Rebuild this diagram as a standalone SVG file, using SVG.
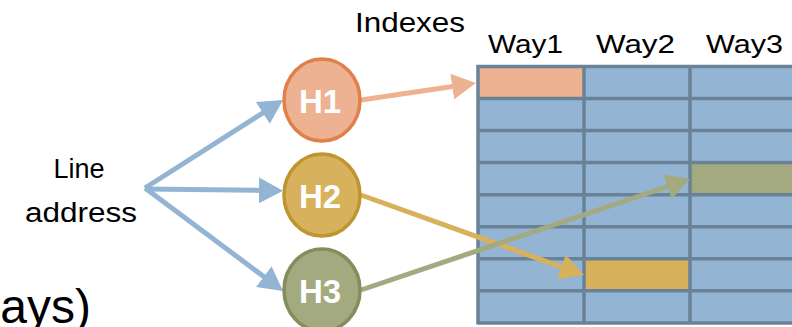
<svg xmlns="http://www.w3.org/2000/svg" width="792" height="327" viewBox="0 0 792 327">
<style>
text{font-family:"Liberation Sans",Arial,sans-serif;fill:#000}
.lbl{font-size:27px}
.way{font-size:26px}
.hl{font-size:33px;font-weight:bold;fill:#fff;text-anchor:middle}
.gl{stroke:#6a8298;stroke-width:3.5;fill:none}
.conn{fill:none;stroke-width:5}
</style>
<defs>
<marker id="aBlue" markerUnits="userSpaceOnUse" markerWidth="26" markerHeight="26" refX="2" refY="13" orient="auto"><path d="M0,0 L24,13 L0,26 z" fill="#93b4d2"/></marker>
<marker id="aPeach" markerUnits="userSpaceOnUse" markerWidth="26" markerHeight="26" refX="2" refY="13" orient="auto"><path d="M0,0 L24,13 L0,26 z" fill="#ecb291"/></marker>
<marker id="aGold" markerUnits="userSpaceOnUse" markerWidth="26" markerHeight="26" refX="2" refY="13" orient="auto"><path d="M0,0 L24,13 L0,26 z" fill="#d8b15c"/></marker>
<marker id="aOlive" markerUnits="userSpaceOnUse" markerWidth="26" markerHeight="26" refX="2" refY="13" orient="auto"><path d="M0,0 L24,13 L0,26 z" fill="#a3aa7f"/></marker>
</defs>

<g id="big-text"><text x="91" y="323" font-size="48" text-anchor="end">ays)</text></g>

<g id="line-address">
<text class="lbl" x="79" y="178" text-anchor="middle">Line</text>
<text class="lbl" x="81" y="222" text-anchor="middle" textLength="112" lengthAdjust="spacingAndGlyphs">address</text>
</g>

<g id="indexes-label"><text class="lbl" x="355" y="32" textLength="110" lengthAdjust="spacingAndGlyphs">Indexes</text></g>

<g id="way-labels">
<text class="way" x="488" y="53" textLength="75" lengthAdjust="spacingAndGlyphs">Way1</text>
<text class="way" x="596" y="53" textLength="79" lengthAdjust="spacingAndGlyphs">Way2</text>
<text class="way" x="706" y="53" textLength="77" lengthAdjust="spacingAndGlyphs">Way3</text>
</g>

<g id="table">
<rect x="478" y="66.5" width="320" height="256.4" fill="#93b4d2"/>
<rect x="478" y="66.5" width="106" height="32" fill="#ecb291"/>
<rect x="584" y="258.8" width="106" height="32" fill="#d8b15c"/>
<rect x="690" y="162.6" width="110" height="32" fill="#a3aa7f"/>
<path class="gl" d="M478,66.5 H792 M478,98.5 H792 M478,130.6 H792 M478,162.6 H792 M478,194.7 H792 M478,226.7 H792 M478,258.8 H792 M478,290.8 H792 M478,322.9 H792 M478,64.8 V324.6 M584,66.5 V322.9 M690,66.5 V322.9"/>
</g>

<g id="connectors">
<line class="conn" stroke="#93b4d2" x1="145" y1="188" x2="264.5" y2="111.8" marker-end="url(#aBlue)"/>
<line class="conn" stroke="#93b4d2" x1="145" y1="189" x2="261" y2="190.4" marker-end="url(#aBlue)"/>
<line class="conn" stroke="#93b4d2" x1="145" y1="188" x2="265.4" y2="277.8" marker-end="url(#aBlue)"/>
<line class="conn" stroke="#ecb291" x1="361" y1="100" x2="454.2" y2="86.2" marker-end="url(#aPeach)"/>
<line class="conn" stroke="#d8b15c" x1="361" y1="195" x2="563.3" y2="267.6" marker-end="url(#aGold)"/>
<line class="conn" stroke="#a3aa7f" x1="361" y1="290" x2="669.2" y2="186" marker-end="url(#aOlive)"/>
</g>

<g id="H1"><ellipse cx="322" cy="100" rx="38" ry="41" fill="#ecb291" stroke="#e0804a" stroke-width="3.5"/><text class="hl" x="320" y="113">H1</text></g>
<g id="H2"><ellipse cx="322" cy="195" rx="38" ry="41" fill="#d8b15c" stroke="#bf9530" stroke-width="3.5"/><text class="hl" x="320" y="208">H2</text></g>
<g id="H3"><ellipse cx="322" cy="290" rx="38" ry="41" fill="#a3aa7f" stroke="#858c5e" stroke-width="3.5"/><text class="hl" x="320" y="303">H3</text></g>
</svg>
